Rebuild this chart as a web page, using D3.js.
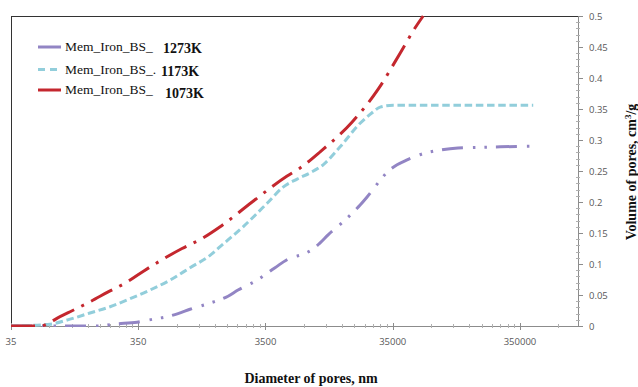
<!DOCTYPE html>
<html>
<head>
<meta charset="utf-8">
<script src="https://cdn.jsdelivr.net/npm/d3@7"></script>
<style>
  html, body { margin: 0; padding: 0; background: #fff; }
  svg { display: block; }
</style>
</head>
<body>
<svg id="chart" width="638" height="387"></svg>
<script>
// ---- data (diameter in nm, volume in cm3/g) ----
const seriesNames = ["1273K", "1173K", "1073K"];
const legendPrefix = ["Mem_Iron_BS_", "Mem_Iron_BS_.", "Mem_Iron_BS_"];

const d1273 = [35, 175, 222, 343, 457, 589, 719, 894, 1284, 1778, 2130, 3007, 4160, 5270, 6920, 8285, 9400, 10870, 14260, 16800, 19400, 22000, 27860, 31600, 37900, 45400, 62900, 78200, 114000, 164000, 244500, 444700];
const v1273 = [0, 0, 0.003, 0.006, 0.011, 0.015, 0.020, 0.027, 0.037, 0.048, 0.058, 0.074, 0.094, 0.108, 0.116, 0.124, 0.134, 0.147, 0.168, 0.182, 0.195, 0.208, 0.235, 0.248, 0.260, 0.268, 0.279, 0.283, 0.287, 0.288, 0.289, 0.290];

const d1173 = [35, 71, 102, 146, 210, 302, 433, 622, 894, 1284, 1540, 2333, 3605, 4813, 6200, 7845, 9930, 13500, 19400, 24100, 27860, 35250, 444700];
const v1173 = [0, 0.003, 0.011, 0.021, 0.031, 0.044, 0.058, 0.074, 0.094, 0.114, 0.128, 0.160, 0.198, 0.224, 0.237, 0.247, 0.260, 0.289, 0.327, 0.344, 0.353, 0.356, 0.356];

const d1073 = [35, 59, 85, 102, 146, 203, 286, 382, 519, 773, 1131, 1540, 2747, 5176, 6550, 9410, 16800, 26900, 40000, 52500, 60700];
const v1073 = [0, 0, 0.015, 0.023, 0.039, 0.055, 0.071, 0.088, 0.105, 0.125, 0.142, 0.160, 0.200, 0.242, 0.255, 0.281, 0.329, 0.382, 0.440, 0.481, 0.500];

const xTickValues = [35, 350, 3500, 35000, 350000];
const xTickLabels = ["35", "350", "3500", "35000", "350000"];
const yTickValues = [0, 0.05, 0.1, 0.15, 0.2, 0.25, 0.3, 0.35, 0.4, 0.45, 0.5];
const yTickLabels = ["0", "0.05", "0.1", "0.15", "0.2", "0.25", "0.3", "0.35", "0.4", "0.45", "0.5"];

const xTitle = "Diameter of pores, nm";

// ---- layout ----
const pL = 11, pR = 578, pT = 16, pB = 326;
const svg = d3.select("#chart");

const x = d3.scaleLog().domain([35, 1000000]).range([pL, pR]);
const y = d3.scaleLinear().domain([0, 0.5]).range([pB, pT]);

const axisGray = "#8c8c8c";
const labelGray = "#595959";

// frame: top and left lines
svg.append("line").attr("x1", pL).attr("x2", pR).attr("y1", pT + 0.5).attr("y2", pT + 0.5)
  .attr("stroke", "#333").attr("stroke-width", 1);
svg.append("line").attr("x1", pL + 0.5).attr("x2", pL + 0.5).attr("y1", pT).attr("y2", pB)
  .attr("stroke", "#333").attr("stroke-width", 1);

// x axis
const gx = svg.append("g");
gx.append("line").attr("x1", pL).attr("x2", pR).attr("y1", pB + 0.5).attr("y2", pB + 0.5)
  .attr("stroke", axisGray);
const xMinor = [];
for (let n = 0; n < 5; n++) for (let k = 2; k <= 9; k++) {
  const v = 35 * k * Math.pow(10, n);
  if (v < 1000000) xMinor.push(v);
}
gx.selectAll(".xminor").data(xMinor).enter().append("line")
  .attr("x1", d => Math.round(x(d)) + 0.5).attr("x2", d => Math.round(x(d)) + 0.5)
  .attr("y1", pB - 2).attr("y2", pB + 2).attr("stroke", "#b0b0b0");
gx.selectAll(".xmajor").data(xTickValues).enter().append("line")
  .attr("x1", d => Math.round(x(d)) + 0.5).attr("x2", d => Math.round(x(d)) + 0.5)
  .attr("y1", pB - 3).attr("y2", pB + 4).attr("stroke", axisGray);
gx.selectAll(".xlab").data(xTickValues).enter().append("text")
  .attr("x", d => x(d)).attr("y", 345)
  .attr("text-anchor", "middle")
  .attr("font-family", "Open Sans, sans-serif").attr("font-size", 9.5)
  .attr("fill", labelGray)
  .text((d, i) => xTickLabels[i]);

// y axis on the right
const gy = svg.append("g");
gy.append("line").attr("x1", pR + 0.5).attr("x2", pR + 0.5).attr("y1", pT).attr("y2", pB + 1)
  .attr("stroke", axisGray);
const yMinor = d3.range(0, 51).map(i => i / 100).filter((d, i) => i % 5 !== 0);
gy.selectAll(".yminor").data(yMinor).enter().append("line")
  .attr("x1", pR - 2).attr("x2", pR + 2)
  .attr("y1", d => Math.round(y(d)) + 0.5).attr("y2", d => Math.round(y(d)) + 0.5)
  .attr("stroke", "#b0b0b0");
gy.selectAll(".ymajor").data(yTickValues).enter().append("line")
  .attr("x1", pR).attr("x2", pR + 5)
  .attr("y1", d => Math.round(y(d)) + 0.5).attr("y2", d => Math.round(y(d)) + 0.5)
  .attr("stroke", axisGray);
gy.selectAll(".ylab").data(yTickValues).enter().append("text")
  .attr("x", 589).attr("y", d => y(d) + 3.5)
  .attr("font-family", "Open Sans, sans-serif").attr("font-size", 9.5)
  .attr("fill", labelGray)
  .text((d, i) => yTickLabels[i]);

// series
const series = [
  { d: d1273, v: v1273, color: "#9285c4", dash: "21,10,2.5,9,2.5,9" },
  { d: d1173, v: v1173, color: "#92cedb", dash: "7.5,3.7" },
  { d: d1073, v: v1073, color: "#c4272e", dash: "24,8,3,8" }
];
const line = d3.line().x(p => x(p[0])).y(p => y(p[1])).curve(d3.curveMonotoneX);
svg.append("clipPath").attr("id", "clip").append("rect")
  .attr("x", pL).attr("y", pT - 1).attr("width", pR - pL).attr("height", pB - pT + 2);
svg.append("g").attr("clip-path", "url(#clip)")
  .selectAll("path").data(series).enter().append("path")
  .attr("d", s => line(s.d.map((dd, i) => [dd, s.v[i]])))
  .attr("fill", "none")
  .attr("stroke", s => s.color)
  .attr("stroke-width", 3)
  .attr("stroke-dasharray", s => s.dash);

// legend
const legY = [47, 69.5, 90];
const legNumX = [163, 161, 165];
const legNumY = [53, 76, 98];
const legDash = [null, "7,5", null];
const lg = svg.append("g");
series.forEach((s, i) => {
  lg.append("line").attr("x1", 38).attr("x2", 61).attr("y1", legY[i]).attr("y2", legY[i])
    .attr("stroke", s.color).attr("stroke-width", 3)
    .attr("stroke-dasharray", legDash[i]);
  lg.append("text").attr("x", 65).attr("y", legY[i] + 4)
    .attr("font-family", "Liberation Serif, Times New Roman, serif").attr("font-size", 13.5)
    .attr("fill", "#111").text(legendPrefix[i]);
  lg.append("text").attr("x", legNumX[i]).attr("y", legNumY[i])
    .attr("font-family", "Liberation Serif, Times New Roman, serif").attr("font-size", 14)
    .attr("font-weight", "bold").attr("fill", "#111").text(seriesNames[i]);
});

// axis titles
svg.append("text").attr("x", 311).attr("y", 383)
  .attr("text-anchor", "middle")
  .attr("font-family", "Liberation Serif, Times New Roman, serif").attr("font-size", 14)
  .attr("font-weight", "bold").attr("fill", "#111").text(xTitle);

const yt = svg.append("text")
  .attr("transform", "translate(636,172) rotate(-90)")
  .attr("text-anchor", "middle")
  .attr("font-family", "Liberation Serif, Times New Roman, serif").attr("font-size", 14)
  .attr("font-weight", "bold").attr("fill", "#111");
yt.append("tspan").text("Volume of pores, cm");
yt.append("tspan").attr("dy", -5).attr("font-size", 9).text("3");
yt.append("tspan").attr("dy", 5).text("/g");
</script>
</body>
</html>
